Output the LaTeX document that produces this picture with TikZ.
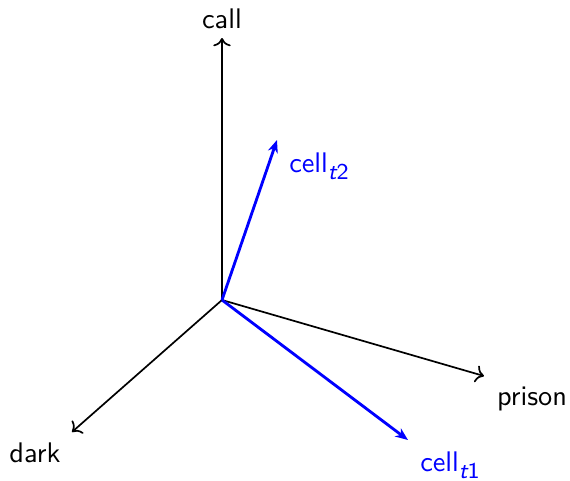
\documentclass[tikz,border=0pt]{standalone}
\usetikzlibrary{arrows.meta}
\newcommand{\mysub}[1]{\raisebox{-2.6pt}{\fontsize{8}{8}\selectfont #1}}
\begin{document}
\begin{tikzpicture}[x=0.353pt,y=-0.353pt,font=\sffamily,
  axis/.style={->,black,semithick},
  vec/.style={-{Stealth[length=4.5pt,width=3.6pt]},blue,line width=1pt},
  lbl/.style={inner sep=0pt}]
\useasboundingbox (0,0) rectangle (570,481);
\coordinate (O) at (222,300);
\coordinate (call) at (222,38);
\coordinate (prison) at (484,376);
\coordinate (dark) at (72,432);
\coordinate (c2) at (277,140);
\coordinate (c1) at (408,440);
\draw[axis] (O) -- (call);
\draw[axis] (O) -- (prison);
\draw[axis] (O) -- (dark);
\draw[vec] (O) -- (c2);
\draw[vec] (O) -- (c1);
\node[lbl] (lcall) at (222,19) {call};
\node[lbl] (lprison) at (532,399) {prison};
\node[lbl] (ldark) at (35,453) {dark};
\node[lbl,blue] (lc2) at (319,166) {cell\mysub{\itshape t\upshape 2}};
\node[lbl,blue] (lc1) at (450,465) {cell\mysub{\itshape t\upshape 1}};
\end{tikzpicture}
\end{document}
